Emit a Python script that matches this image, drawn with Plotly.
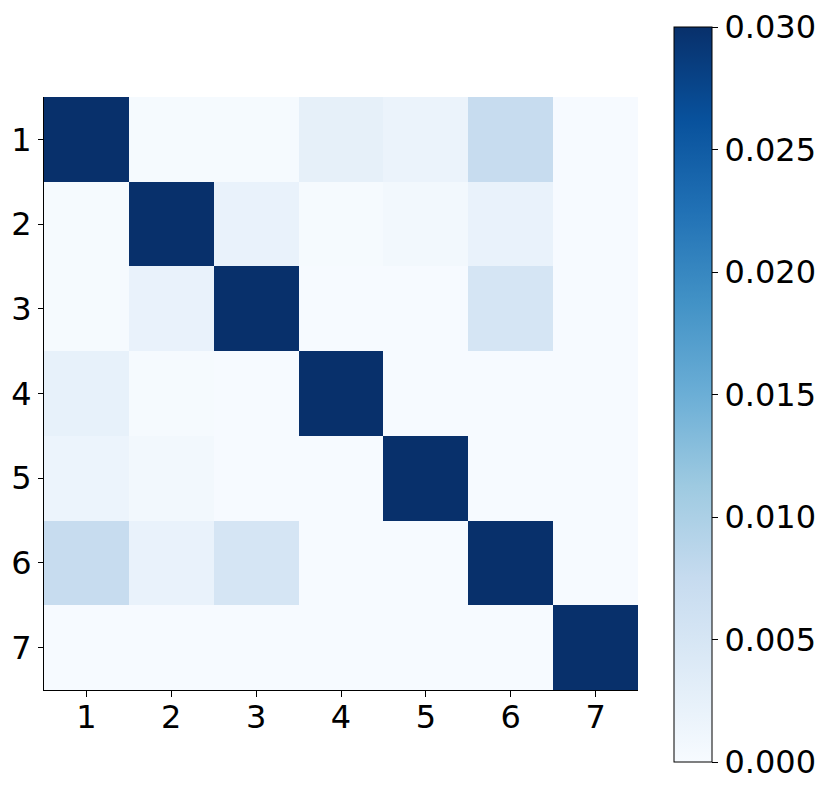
import plotly.graph_objects as go

categories = [1, 2, 3, 4, 5, 6, 7]
tick_labels = ["1", "2", "3", "4", "5", "6", "7"]

D = 0.03
row1 = [D, 0.0003, 0.0003, 0.0026, 0.0018, 0.0073, 0.0002]
row2 = [0.0003, D, 0.0021, 0.0003, 0.0008, 0.0021, 0.0002]
row3 = [0.0003, 0.0021, D, 0.0002, 0.0002, 0.0051, 0.0002]
row4 = [0.0024, 0.0003, 0.0002, D, 0.0002, 0.0002, 0.0002]
row5 = [0.0016, 0.0008, 0.0002, 0.0002, D, 0.0002, 0.0002]
row6 = [0.0073, 0.0021, 0.0051, 0.0002, 0.0002, D, 0.0002]
row7 = [0.0002, 0.0002, 0.0002, 0.0002, 0.0002, 0.0002, D]
matrix = [row1, row2, row3, row4, row5, row6, row7]

cbar_ticks = [0.0, 0.005, 0.010, 0.015, 0.020, 0.025, 0.030]
cbar_labels = ["0.000", "0.005", "0.010", "0.015", "0.020", "0.025", "0.030"]

blues = ['rgb(247,251,255)', 'rgb(222,235,247)', 'rgb(198,219,239)',
         'rgb(158,202,225)', 'rgb(107,174,214)', 'rgb(66,146,198)',
         'rgb(33,113,181)', 'rgb(8,81,156)', 'rgb(8,48,107)']
colorscale = [[i / (len(blues) - 1), c] for i, c in enumerate(blues)]

# page body has an 8px margin, so the figure is placed at (8, 8)
OFF = 8
W, H = 830 - OFF, 793 - OFF
L, T = 44 - OFF, 97 - OFF
R = W - (638 - OFF)
B = H - (690 - OFF)
plot_w = W - L - R
plot_h = H - T - B

cb_top, cb_bot = 27, 762  # page pixels
cb_center = (cb_top + cb_bot) / 2

fig = go.Figure(go.Heatmap(
    z=matrix, x=categories, y=categories,
    colorscale=colorscale, zmin=0, zmax=0.03,
    xgap=0, ygap=0,
    colorbar=dict(
        x=(674 - OFF - L) / plot_w, xanchor="left", xpad=0,
        y=(690 - cb_center) / plot_h, yanchor="middle", ypad=0,
        lenmode="pixels", len=cb_bot - cb_top,
        thicknessmode="pixels", thickness=38,
        outlinewidth=1, outlinecolor="black",
        tickvals=cbar_ticks, ticktext=cbar_labels,
        ticks="outside", ticklen=6, tickwidth=1, tickcolor="black",
        ticklabeloverflow="allow",
        tickfont=dict(family="DejaVu Sans", size=32, color="black"),
    ),
))

fig.update_layout(
    width=W, height=H,
    margin=dict(l=L, r=R, t=T, b=B, autoexpand=False),
    paper_bgcolor="white", plot_bgcolor="white",
    font=dict(family="DejaVu Sans", size=32, color="black"),
)
fig.update_xaxes(
    range=[0.5, 7.5], tickvals=categories, ticktext=tick_labels,
    ticks="outside", ticklen=6, tickwidth=1, tickcolor="black",
    ticklabelstandoff=-8,
    tickfont=dict(family="DejaVu Sans", size=32, color="black"),
    showline=True, linecolor="black", linewidth=1.2, mirror=False,
    showgrid=False, zeroline=False, automargin=False,
)
fig.update_yaxes(
    range=[7.5, 0.5], tickvals=categories, ticktext=tick_labels,
    ticks="outside", ticklen=5, tickwidth=1, tickcolor="black",
    tickfont=dict(family="DejaVu Sans", size=32, color="black"),
    showline=True, linecolor="black", linewidth=1.2, mirror=False,
    showgrid=False, zeroline=False, automargin=False,
)

fig.write_html("out.html")
